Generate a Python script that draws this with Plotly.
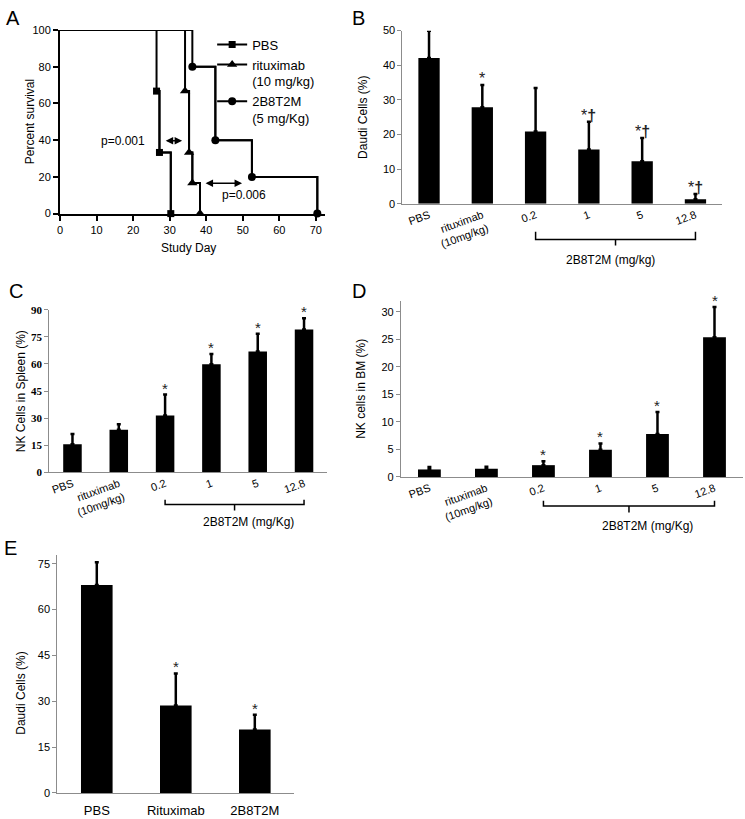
import plotly.graph_objects as go

W, H = 745, 819
FONT = "Liberation Sans, Arial, sans-serif"

# ---------------- data ----------------
# Panel A: Kaplan-Meier survival
pbs_days = [0, 26.4, 27.2, 30.3]
pbs_surv = [100, 66.7, 33.3, 0]
rtx_days = [0, 34.2, 35.3, 36.2, 38.3]
rtx_surv = [100, 66.7, 33.3, 16.7, 0]
t2m_days = [0, 36.2, 42.5, 52.5, 70.4]
t2m_surv = [100, 80, 40, 20, 0]
a_xticks = [0, 10, 20, 30, 40, 50, 60, 70]
a_yticks = [0, 20, 40, 60, 80, 100]

# Panel B: Daudi cells (%)
dose_labels = ["PBS", "rituximab<br>(10mg/kg)", "0.2", "1", "5", "12.8"]
b_means = [42.1, 27.9, 20.9, 15.7, 12.3, 1.3]
b_errs = [7.9, 6.4, 12.5, 8.0, 6.7, 1.5]
b_sig = ["", "*", "", "*<b>†</b>", "*<b>†</b>", "*<b>†</b>"]
b_yticks = [0, 10, 20, 30, 40, 50]

# Panel C: NK cells in spleen (%)
c_means = [15.5, 23.6, 31.5, 59.8, 66.9, 79.1]
c_errs = [5.8, 3.1, 11.6, 5.7, 9.8, 6.2]
c_sig = ["", "", "*", "*", "*", "*"]
c_yticks = [0, 15, 30, 45, 60, 75, 90]

# Panel D: NK cells in BM (%)
d_means = [1.37, 1.5, 2.15, 4.95, 7.8, 25.4]
d_errs = [0.45, 0.35, 0.7, 1.15, 4.0, 5.5]
d_sig = ["", "", "*", "*", "*", "*"]
d_yticks = [0, 5, 10, 15, 20, 25, 30]

# Panel E: Daudi cells (%)
e_labels = ["PBS", "Rituximab", "2B8T2M"]
e_means = [68.0, 28.6, 20.8]
e_errs = [7.5, 10.5, 4.8]
e_sig = ["", "*", "*"]
e_yticks = [0, 15, 30, 45, 60, 75]


def fx(px):
    return px / W


def fy(py):
    return 1 - py / H


fig = go.Figure()

# ---------------- Panel A ----------------
groups = [
    ("PBS", pbs_days, pbs_surv, "square", 7),
    ("rituximab<br>(10 mg/kg)", rtx_days, rtx_surv, "triangle-up", 9),
    ("2B8T2M<br>(5 mg/Kg)", t2m_days, t2m_surv, "circle", 8),
]
for name, d, s, sym, size in groups:
    fig.add_trace(go.Scatter(x=d, y=s, mode="lines", line=dict(color="black", width=2, shape="hv"),
                             showlegend=False, xaxis="x", yaxis="y", cliponaxis=False, hoverinfo="skip"))
    fig.add_trace(go.Scatter(x=d[1:], y=s[1:], mode="lines+markers", name=name,
                             line=dict(color="black", width=2, shape="hv"),
                             marker=dict(symbol=sym, size=size, color="black"),
                             xaxis="x", yaxis="y", cliponaxis=False))


def bar_panel(xa, ya, means, errs):
    n = len(means)
    fig.add_trace(go.Bar(x=list(range(n)), y=means, width=0.4, marker=dict(color="black", line=dict(width=0)),
                         error_y=dict(type="data", symmetric=False, array=errs, arrayminus=[0] * n,
                                      color="black", thickness=2.5, width=2),
                         showlegend=False, xaxis=xa, yaxis=ya))


bar_panel("x2", "y2", b_means, b_errs)
bar_panel("x3", "y3", c_means, c_errs)
bar_panel("x4", "y4", d_means, d_errs)
bar_panel("x5", "y5", e_means, e_errs)

tick_font = dict(family=FONT, size=11, color="black")

layout = dict(
    width=W, height=H,
    margin=dict(l=0, r=0, t=0, b=0),
    paper_bgcolor="white", plot_bgcolor="white",
    font=dict(family=FONT, color="black"),
    showlegend=True,
    legend=dict(x=fx(210), y=fy(24), xanchor="left", yanchor="top", valign="top",
                font=dict(family=FONT, size=13, color="black"), bgcolor="rgba(0,0,0,0)",
                tracegroupgap=0),
    xaxis=dict(domain=[fx(57.3), fx(323.3)], range=[0, 72.5], tickvals=a_xticks, ticks="outside",
               ticklen=5, tickwidth=2, tickcolor="black", showline=True, linewidth=2, linecolor="black",
               showgrid=False, zeroline=False, tickfont=tick_font, anchor="y"),
    yaxis=dict(domain=[fy(210.7), fy(24.3)], range=[0, 100], tickvals=a_yticks, ticks="outside",
               ticklen=5, tickwidth=2, tickcolor="black", showline=True, linewidth=2, linecolor="black",
               showgrid=False, zeroline=False, tickfont=tick_font, anchor="x"),
)

bar_axes = [
    ("2", [401, 722], [200.7, 25], [0, 50], b_yticks, dose_labels, -20, tick_font),
    ("3", [46.5, 325.5], [473.3, 308.3], [0, 90], c_yticks, dose_labels, -20,
     dict(family="Liberation Serif, Times New Roman, serif", size=11, color="black", weight="bold")),
    ("4", [399.5, 743], [478, 299.3], [0, 32], d_yticks, dose_labels, -20, tick_font),
    ("5", [54.5, 292.5], [798.7, 556.7], [0, 78], e_yticks, e_labels, 0, tick_font),
]
for k, xd, yd, yr, yt, labels, ang, yfont in bar_axes:
    layout["xaxis" + k] = dict(domain=[fx(xd[0]), fx(xd[1])], range=[-0.5, len(labels) - 0.5],
                               tickvals=list(range(len(labels))), ticktext=labels, tickangle=ang,
                               ticks="", showline=True, linewidth=1, linecolor="#8c8c8c",
                               showgrid=False, zeroline=False,
                               ticklabelstandoff=5 if k == "5" else 0,
                               tickfont=dict(family=FONT, size=13 if k == "5" else 11, color="black"),
                               anchor="y" + k)
    layout["yaxis" + k] = dict(domain=[fy(yd[0]), fy(yd[1])], range=yr, tickvals=yt, ticks="outside",
                               ticklen=4, tickwidth=1, tickcolor="#8c8c8c", showline=True, linewidth=1,
                               linecolor="#8c8c8c", showgrid=False, zeroline=False, tickfont=yfont,
                               anchor="x" + k)

fig.update_layout(**layout)

ann = []


def txt(px, py, text, size=12, angle=0, xanchor="center", yanchor="middle"):
    ann.append(dict(x=fx(px), y=fy(py), xref="paper", yref="paper", text=text, showarrow=False,
                    textangle=angle, xanchor=xanchor, yanchor=yanchor,
                    font=dict(family=FONT, size=size, color="black")))


# panel letters
for letter, px, py in [("A", 10, 12), ("B", 357, 12), ("C", 13, 289), ("D", 357, 289), ("E", 8, 550)]:
    txt(px, py, letter, size=20)

# axis titles
txt(27, 117, "Percent survival", 12, -90)
txt(186, 246, "Study Day", 12)
txt(362, 113, "Daudi Cells (%)", 12, -90)
txt(18, 391, "NK Cells in Spleen (%)", 12, -90)
txt(360, 389, "NK cells in BM (%)", 12, -90)
txt(18, 697, "Daudi Cells (%)", 12, -90)

# bracket labels
txt(610, 258, "2B8T2M (mg/kg)", 12)
txt(246, 524, "2B8T2M (mg/Kg)", 12)
txt(647, 528, "2B8T2M (mg/Kg)", 12)

# p-values in A
txt(120, 137, "p=0.001", 12)
txt(242, 192, "p=0.006", 12)
for x0, x1, y in [(28.5, 33.4, 39.7), (39.4, 49.8, 16.5)]:
    ann.append(dict(x=x1, y=y, ax=x0, ay=y, xref="x", yref="y", axref="x", ayref="y", text="",
                    showarrow=True, arrowhead=2, startarrowhead=2, arrowside="end+start",
                    arrowwidth=1.5, arrowsize=1, startarrowsize=1, arrowcolor="black"))

# significance markers
for k, means, errs, sig, size in [("2", b_means, b_errs, b_sig, 16), ("3", c_means, c_errs, c_sig, 15),
                                  ("4", d_means, d_errs, d_sig, 15), ("5", e_means, e_errs, e_sig, 15)]:
    for i, (m, e, s) in enumerate(zip(means, errs, sig)):
        if s:
            ann.append(dict(x=i, y=m + e, xref="x" + k, yref="y" + k, text=s, showarrow=False,
                            yanchor="bottom", yshift=-4,
                            font=dict(family=FONT, size=size, color="#222")))

fig.update_layout(annotations=ann)

# brackets under dose groups
shapes = []
for k, top, mid, bot in [("2", 229, 237, 243), ("3", 501, 506, 512), ("4", 502, 507.5, 514)]:
    x0, x1 = 2, 5
    xc = (x0 + x1) / 2
    path = (f"M {x0},{fy(top)} L {x0},{fy(mid)} L {x1},{fy(mid)} L {x1},{fy(top)} "
            f"M {xc},{fy(mid)} L {xc},{fy(bot)}")
    shapes.append(dict(type="path", path=path, xref="x" + k, yref="paper",
                       line=dict(color="black", width=1.5)))
fig.update_layout(shapes=shapes)

fig.write_html("out.html", config={"displayModeBar": False},
               post_script="document.body.style.margin='0px';document.body.style.overflow='hidden';")
